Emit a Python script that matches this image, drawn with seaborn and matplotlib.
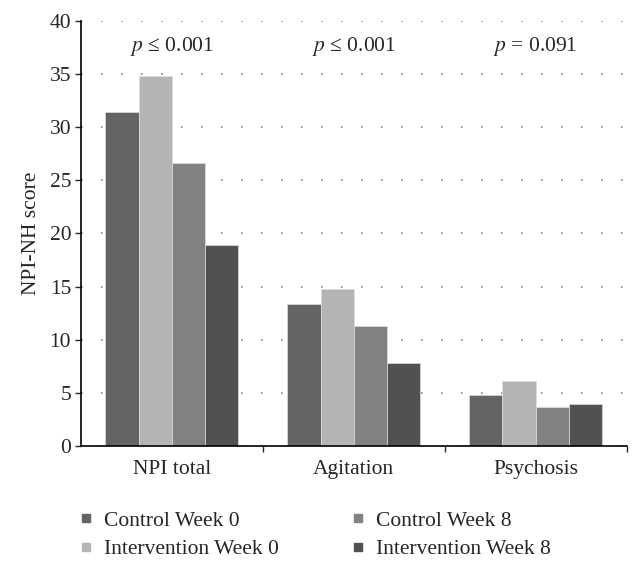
import pandas as pd
import numpy as np
import matplotlib
matplotlib.use("Agg")
import matplotlib.pyplot as plt
from matplotlib.lines import Line2D
import seaborn as sns

# Data
categories = ["NPI total", "Agitation", "Psychosis"]
groups = ["Control Week 0", "Intervention Week 0", "Control Week 8", "Intervention Week 8"]
control_w0 = [31.4, 13.4, 4.8]
intervention_w0 = [34.8, 14.8, 6.1]
control_w8 = [26.6, 11.3, 3.7]
intervention_w8 = [18.9, 7.8, 3.9]
p_labels = ["$p$ \u2264 0.001", "$p$ \u2264 0.001", "$p$ = 0.091"]
colors = ["#646464", "#b4b4b4", "#828282", "#515151"]

rows = []
for g, vals in zip(groups, [control_w0, intervention_w0, control_w8, intervention_w8]):
    for c, v in zip(categories, vals):
        rows.append({"category": c, "group": g, "score": v})
df = pd.DataFrame(rows)

sns.set_style("white")
plt.rcParams['font.family'] = ['Liberation Serif', 'DejaVu Serif']
plt.rcParams['mathtext.fontset'] = 'stix'

fs = 15.5
fig = plt.figure(figsize=(6.42, 5.68), dpi=100)
ax = fig.add_axes([0.126, 0.215, 0.850, 0.748])

sns.barplot(data=df, x="category", y="score", hue="group", order=categories,
            hue_order=groups, palette=colors, width=0.73, saturation=1,
            edgecolor="#dddddd", linewidth=0.5, ax=ax, legend=False)

ax.set_ylim(0, 40)
ax.set_xlim(-0.5, 2.5)
ax.set_yticks(np.arange(0, 41, 5))
ax.yaxis.grid(True, linestyle=(0, (1, 11)), color="#888888", linewidth=1.2)
ax.set_axisbelow(True)
for s in ["top", "right"]:
    ax.spines[s].set_visible(False)
for s in ["left", "bottom"]:
    ax.spines[s].set_color("black")
    ax.spines[s].set_linewidth(1.2)

ax.tick_params(axis="y", which="major", left=True, length=4, width=1, labelsize=fs, pad=3)
ax.tick_params(axis="x", which="major", bottom=False, labelsize=fs, pad=7)
ax.set_xticks([0.5, 1.5, 2.5], minor=True)
ax.tick_params(axis="x", which="minor", bottom=True, length=4, width=1)
ax.set_xlabel("")
ax.set_ylabel("NPI-NH score", fontsize=fs, labelpad=6)

for i, lab in enumerate(p_labels):
    ax.text(i, 37.6, lab, ha="center", va="center", fontsize=fs)

handles = [Line2D([0], [0], marker="s", linestyle="", markersize=6,
                  markerfacecolor=c, markeredgecolor=c) for c in colors]
fig.legend(handles, groups, loc="upper left", bbox_to_anchor=(0.122, 0.101),
           ncol=2, frameon=False, fontsize=fs, handlelength=0.7, handletextpad=0.5,
           columnspacing=3.3, labelspacing=0.4, borderaxespad=0, borderpad=0)

fig.savefig("out.png", dpi=100)
